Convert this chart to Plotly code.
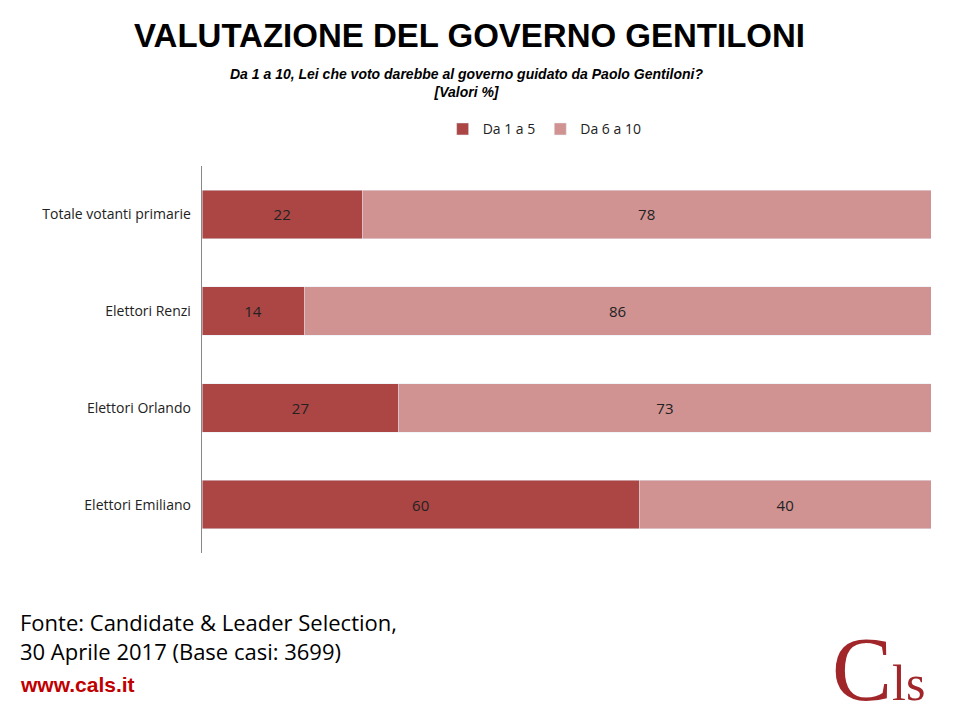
import plotly.graph_objects as go

categories = ["Totale votanti primarie", "Elettori Renzi", "Elettori Orlando", "Elettori Emiliano"]
da_1_a_5 = [22, 14, 27, 60]
da_6_a_10 = [78, 86, 73, 40]

dark_red = "#AB4645"
light_red = "#D09392"

fig = go.Figure()
fig.add_trace(go.Bar(y=categories, x=da_1_a_5, name="Da 1 a 5", orientation="h",
                     marker_color=dark_red, text=da_1_a_5, textposition="inside",
                     insidetextanchor="middle", textfont=dict(color="#222222", size=15)))
fig.add_trace(go.Bar(y=categories, x=da_6_a_10, name="Da 6 a 10", orientation="h",
                     marker_color=light_red, text=da_6_a_10, textposition="inside",
                     insidetextanchor="middle", textfont=dict(color="#222222", size=15)))

fig.update_layout(
    width=960, height=720, barmode="stack", bargap=0.5,
    paper_bgcolor="white", plot_bgcolor="white",
    font=dict(family="Open Sans, Arial", color="#222222"),
    margin=dict(l=194, r=37, t=158, b=175),
    showlegend=True,
    legend=dict(orientation="h", x=0.47, xanchor="center", y=1.136, yanchor="top",
                font=dict(size=14), traceorder="normal"),
    xaxis=dict(range=[0, 100], visible=False),
    yaxis=dict(autorange="reversed", showline=True, linecolor="#888888", linewidth=1,
               ticks="", tickfont=dict(size=14), ticksuffix="  "),
    uniformtext=dict(mode="show", minsize=14),
)

fig.add_annotation(text="<b>VALUTAZIONE DEL GOVERNO GENTILONI</b>", xref="paper", yref="paper",
                   x=0.5, y=1.337, xanchor="center", yanchor="middle", showarrow=False,
                   font=dict(size=33, family="Liberation Sans, Arial", color="black"), xshift=-97)
fig.add_annotation(text="<b><i>Da 1 a 10, Lei che voto darebbe al governo guidato da Paolo Gentiloni?<br>[Valori %]</i></b>",
                   xref="paper", yref="paper", x=0.5, y=1.215, xanchor="center", yanchor="middle",
                   showarrow=False, font=dict(size=14, family="Liberation Sans, Arial", color="black"),
                   xshift=-100)
fig.add_annotation(text="Fonte: Candidate &amp; Leader Selection,<br>30 Aprile 2017 (Base casi: 3699)",
                   xref="paper", yref="paper", x=-0.252, y=-0.135, xanchor="left", yanchor="top",
                   align="left", showarrow=False,
                   font=dict(size=22, family="Open Sans, Arial", color="black"))
fig.add_annotation(text="<b>www.cals.it</b>", xref="paper", yref="paper", x=-0.252, y=-0.305,
                   xanchor="left", yanchor="top", align="left", showarrow=False,
                   font=dict(size=21, family="Liberation Sans, Arial", color="#C00000"))
fig.add_annotation(text="C<span style='font-size:50px'>ls</span>", xref="paper", yref="paper",
                   x=0.995, y=-0.30, xanchor="right", yanchor="middle", showarrow=False,
                   font=dict(size=90, family="Liberation Serif, serif", color="#A0262A"))

fig.write_html("out.html")
